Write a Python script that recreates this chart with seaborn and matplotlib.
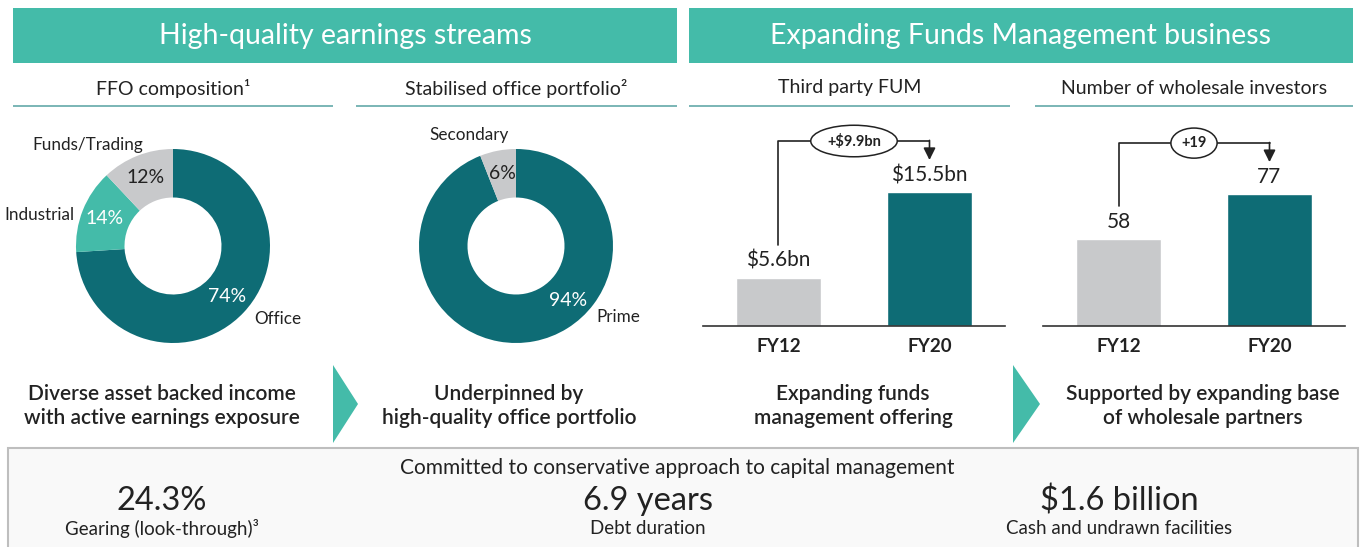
import matplotlib
matplotlib.use("Agg")
import matplotlib.pyplot as plt
from matplotlib.patches import Rectangle, Polygon
import seaborn as sns

# --- dados ---
ffo_labels = ["Office", "Industrial", "Funds/Trading"]
ffo_share = [74, 14, 12]
office_labels = ["Prime", "Secondary"]
office_share = [94, 6]
fum_years = ["FY12", "FY20"]
fum_bn = [5.6, 15.5]
inv_years = ["FY12", "FY20"]
investors = [58, 77]

headers = ["High-quality earnings streams", "Expanding Funds Management business"]
subheads = ["FFO composition\u00b9", "Stabilised office portfolio\u00b2",
            "Third party FUM", "Number of wholesale investors"]
statements = ["Diverse asset backed income\nwith active earnings exposure",
              "Underpinned by\nhigh-quality office portfolio",
              "Expanding funds\nmanagement offering",
              "Supported by expanding base\nof wholesale partners"]
box_title = "Committed to conservative approach to capital management"
metric_values = ["24.3%", "6.9 years", "$1.6 billion"]
metric_labels = ["Gearing (look-through)\u00b3", "Debt duration", "Cash and undrawn facilities"]

# --- cores ---
TEAL = "#44BBA9"
DARK = "#0E6C75"
GREY = "#C8C9CB"
TXT = "#222222"
LINE = "#7DB7B7"

W, H = 1365, 547

sns.set_theme(style="white")
plt.rcParams["font.family"] = ["Lato", "DejaVu Sans"]

fig = plt.figure(figsize=(W / 100, H / 100), dpi=100)


def fx(x):
    return x / W


def fy(y):
    return 1 - y / H


def rect(x0, y0, x1, y1, **kw):
    fig.patches.append(Rectangle((fx(x0), fy(y1)), (x1 - x0) / W, (y1 - y0) / H,
                                 transform=fig.transFigure, **kw))


def add_ax(x0, y0, x1, y1):
    return fig.add_axes([fx(x0), fy(y1), (x1 - x0) / W, (y1 - y0) / H])


# banners
for (x0, x1), txt in zip([(13, 677), (689, 1353)], headers):
    rect(x0, 8, x1, 63, facecolor=TEAL, edgecolor="none")
    fig.text(fx((x0 + x1) / 2), fy(36), txt, color="white", fontsize=20.5,
             ha="center", va="center")

# sub-headings
for (x0, x1), txt in zip([(13, 333), (356, 677), (689, 1010), (1035, 1353)], subheads):
    fig.text(fx((x0 + x1) / 2), fy(88), txt, color=TXT, fontsize=14,
             ha="center", va="center")
    rect(x0, 105, x1, 107, facecolor=LINE, edgecolor="none")


# --- donuts ---
R = 97  # px por unidade de raio


def donut(x0, x1, cx, vals, names, colors, pct_colors, name_pos, pct_override=None):
    ax = add_ax(x0, 115, x1, 360)
    wedges, _, pcts = ax.pie(
        vals, colors=colors, startangle=90, counterclock=False, radius=1,
        wedgeprops=dict(width=0.5, edgecolor="none"),
        autopct="%d%%", pctdistance=0.76, textprops=dict(fontsize=14))
    for t, c in zip(pcts, pct_colors):
        t.set_color(c)
    if pct_override:
        for i, pos in pct_override.items():
            pcts[i].set_position(pos)
    for name, (px_, py_) in zip(names, name_pos):
        ax.text(px_, py_, name, fontsize=12.3, color=TXT, ha="center", va="center")
    ax.set_xlim((x0 - cx) / R, (x1 - cx) / R)
    ax.set_ylim(-(360 - 246) / R, (246 - 115) / R)
    ax.set_aspect("auto")
    ax.axis("off")


donut(0, 340, 173, ffo_share, ffo_labels, [DARK, TEAL, GREY], ["white", "white", TXT],
      [(1.08, -0.75), (-1.38, 0.32), (-0.88, 1.04)])
donut(345, 685, 516, office_share, office_labels, [DARK, GREY], ["white", TXT],
      [(1.05, -0.73), (-0.48, 1.14)], pct_override={0: (0.54, -0.56)})


# --- barras ---
def bars(x0, x1, cats, vals, ylim, fmt, delta_fmt):
    ax = add_ax(x0, 120, x1, 326)
    sns.barplot(x=cats, y=vals, hue=cats, palette=[GREY, DARK], legend=False,
                width=0.563, ax=ax, saturation=1)
    ax.set_ylim(*ylim)
    ax.set_xlim(-0.5, 1.5)
    k = (ylim[1] - ylim[0]) / 206  # unidades por px
    for cont, v in zip(ax.containers, vals):
        ax.bar_label(cont, labels=[fmt(v)], padding=5, fontsize=15, color=TXT)
    for s in ["top", "right", "left"]:
        ax.spines[s].set_visible(False)
    ax.spines["bottom"].set_color("#333333")
    ax.spines["bottom"].set_linewidth(1.2)
    ax.set_yticks([])
    ax.set_ylabel("")
    ax.tick_params(axis="x", length=0, pad=9, labelsize=13.5)
    for t in ax.get_xticklabels():
        t.set_fontweight("bold")
        t.set_color(TXT)
    # seta de variação
    y0 = vals[0] + 33 * k
    ytop = vals[1] + 51 * k
    ytip = vals[1] + 32 * k
    ax.plot([0, 0, 1], [y0, ytop, ytop], color=TXT, lw=1.2, clip_on=False)
    ax.annotate("", xy=(1, ytip), xytext=(1, ytop + 0.6 * k),
                arrowprops=dict(arrowstyle="-|>,head_length=0.6,head_width=0.3",
                                color=TXT, lw=1.2, shrinkA=0, shrinkB=0),
                annotation_clip=False)
    ax.text(0.5, ytop, delta_fmt(vals[1] - vals[0]), ha="center", va="center",
            fontsize=10.5, fontweight="bold", color=TXT,
            bbox=dict(boxstyle="ellipse,pad=0.25", fc="white", ec=TXT, lw=1.1))
    ax.set_facecolor("none")


bars(703, 1005, fum_years, fum_bn, (0, 23.83), lambda v: f"${v:.1f}bn",
     lambda d: f"+${d:.1f}bn")
bars(1043, 1345, inv_years, investors, (21.3, 108.3), lambda v: f"{v:d}",
     lambda d: f"+{d:d}")

# chevrons
for x0, x1 in [(333, 358), (1013, 1040)]:
    fig.patches.append(Polygon([(fx(x0), fy(365)), (fx(x1), fy(404)), (fx(x0), fy(443))],
                               closed=True, transform=fig.transFigure,
                               facecolor=TEAL, edgecolor="none"))

# statements
for cx, txt in zip([162, 509, 853, 1203], statements):
    fig.text(fx(cx), fy(406), txt, ha="center", va="center", fontsize=15,
             fontweight="semibold", color=TXT, linespacing=1.22, multialignment="center")

# caixa inferior
rect(8, 448, 1358, 560, facecolor="#F9F9F9", edgecolor="#BEBEBE", linewidth=1.5)
fig.text(fx(677), fy(468), box_title, ha="center", va="center", fontsize=15, color=TXT)
for cx, val, lab in zip([162, 648, 1119], metric_values, metric_labels):
    fig.text(fx(cx), fy(501), val, ha="center", va="center", fontsize=23.5, color=TXT)
    fig.text(fx(cx), fy(529), lab, ha="center", va="center", fontsize=13.5, color=TXT)

fig.savefig("out.png", dpi=100)
